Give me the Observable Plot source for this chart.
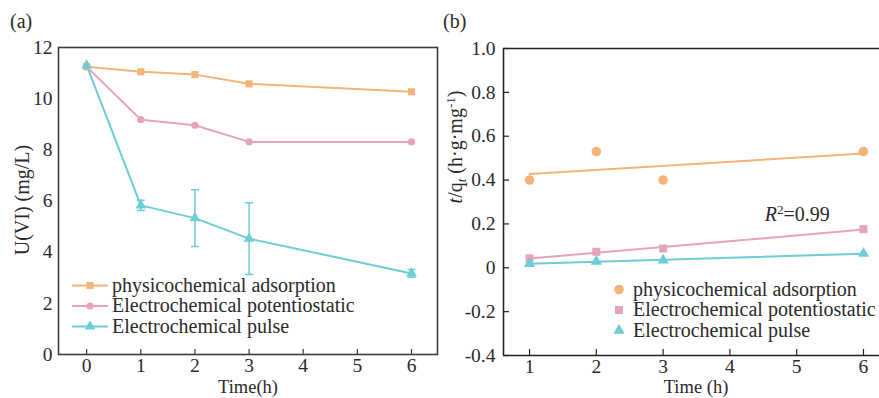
<!DOCTYPE html>
<html><head><meta charset="utf-8">
<script src="https://cdn.jsdelivr.net/npm/d3@7"></script>
<script src="https://cdn.jsdelivr.net/npm/@observablehq/plot@0.6"></script>
<style>
body{margin:0;background:#fff;}
#wrap{display:flex;width:879px;height:398px;overflow:hidden;}
svg text{font-family:"Liberation Serif","Times New Roman",serif;}
</style></head><body><div id="wrap"></div>
<script>
// ---- data (a) ----
const timeA = [0, 1, 2, 3, 6];
const physAdsA = [11.25, 11.05, 10.94, 10.58, 10.27];
const potentioA = [11.25, 9.18, 8.96, 8.31, 8.31];
const pulseA = [11.3, 5.83, 5.33, 4.53, 3.17];
const pulseErrA = [0, 0.2, 1.11, 1.4, 0.15];
const ticksAx = [0, 1, 2, 3, 4, 5, 6];
const ticksAy = [0, 2, 4, 6, 8, 10, 12];
// ---- data (b) ----
const timeB = [1, 2, 3, 6];
const physAdsB = [0.40, 0.53, 0.40, 0.53];
const potentioB = [0.043, 0.073, 0.088, 0.176];
const pulseB = [0.018, 0.029, 0.034, 0.065];
const ticksBx = [1, 2, 3, 4, 5, 6];
const ticksBy = [-0.4, -0.2, 0, 0.2, 0.4, 0.6, 0.8, 1.0];
const seriesNames = ["physicochemical adsorption", "Electrochemical potentiostatic", "Electrochemical pulse"];
const colors = ["#F4B478", "#E6A3BB", "#6CCDD5"];

const FS = 20, TFS = 19.5, XLFS = 18.5;
const font = '"Liberation Serif","Times New Roman",serif';
const wrap = document.getElementById("wrap");

function addText(s, x, y, str, anchor) {
  return s.append("text").attr("x", x).attr("y", y).attr("text-anchor", anchor || "start")
    .attr("font-family", font).attr("font-size", FS).attr("fill", "#2a2a2a").text(str);
}

// ---------- Panel (a) ----------
const A = {w: 440, h: 398, ml: 58, mr: 3, mt: 47, mb: 44};
const innerHA = A.h - A.mt - A.mb;
const xDomA = [-0.52, 6.48], yDomA = [0, 12];
const rowsA = [physAdsA, potentioA, pulseA].map(vals => timeA.map((t, i) => ({t, v: vals[i]})));
const errA = timeA.map((t, i) => ({t, lo: pulseA[i] - pulseErrA[i], hi: pulseA[i] + pulseErrA[i], e: pulseErrA[i]})).filter(d => d.e > 0);
const cap = {draw(ctx) { ctx.moveTo(-4, 0); ctx.lineTo(4, 0); }};
const symA = ["square", "circle", "triangle"];
const rA = [4, 3.6, 4];

const plotA = Plot.plot({
  width: A.w, height: A.h, marginLeft: A.ml, marginRight: A.mr, marginTop: A.mt, marginBottom: A.mb,
  style: {fontFamily: font, fontSize: TFS + "px", color: "#2a2a2a", background: "#fff"},
  x: {domain: xDomA}, y: {domain: yDomA},
  marks: [
    Plot.axisX({ticks: ticksAx, tickSize: 0, tickPadding: 4, label: null, tickFormat: d => String(d)}),
    Plot.axisY({ticks: ticksAy, tickSize: 0, tickPadding: 6, label: null}),
    Plot.ruleX(ticksAx, {insetTop: innerHA - 5, stroke: "#3a3a3a", strokeWidth: 1.2}),
    Plot.ruleX(errA, {x: "t", y1: "lo", y2: "hi", stroke: colors[2], strokeWidth: 1.5}),
    Plot.dot(errA, {x: "t", y: "hi", symbol: cap, stroke: colors[2], strokeWidth: 1.5, fill: "none"}),
    Plot.dot(errA, {x: "t", y: "lo", symbol: cap, stroke: colors[2], strokeWidth: 1.5, fill: "none"}),
    ...rowsA.map((rows, k) => Plot.line(rows, {x: "t", y: "v", stroke: colors[k], strokeWidth: 2})),
    ...rowsA.map((rows, k) => Plot.dot(rows, {x: "t", y: "v", fill: colors[k], symbol: symA[k], r: rA[k]})),
    Plot.frame({stroke: "#3a3a3a", strokeWidth: 1.6})
  ]
});
wrap.appendChild(plotA);
{
  const s = d3.select(plotA);
  addText(s, 10, 28, "(a)");
  addText(s, 0, 0, "U(VI) (mg/L)", "middle").attr("x", null).attr("y", null)
    .attr("transform", "translate(22,200) rotate(-90)").attr("dy", "0.35em");
  addText(s, 248, 393, "Time(h)", "middle").attr("font-size", XLFS);
  const rowsY = [285.5, 306, 326.5];
  seriesNames.forEach((name, k) => {
    s.append("line").attr("x1", 72).attr("x2", 108).attr("y1", rowsY[k]).attr("y2", rowsY[k]).attr("stroke", colors[k]).attr("stroke-width", 2);
    const sym = [d3.symbolSquare, d3.symbolCircle, d3.symbolTriangle][k];
    s.append("path").attr("d", d3.symbol(sym, Math.PI * rA[k] * rA[k])()).attr("transform", `translate(90,${rowsY[k]})`).attr("fill", colors[k]);
    addText(s, 112, rowsY[k], name).attr("dy", "0.32em");
  });
}

// ---------- Panel (b) ----------
const B = {w: 439, h: 398, ml: 63, mr: 0, mt: 48, mb: 43};
const innerHB = B.h - B.mt - B.mb, innerWB = B.w - B.ml - B.mr;
const xDomB = [0.61, 6.24], yDomB = [-0.4, 1.0];
const rowsB = [physAdsB, potentioB, pulseB].map(vals => timeB.map((t, i) => ({t, v: vals[i]})));
const symB = ["circle", "square", "triangle"];
const rB = [4.8, 4.5, 4.2];

const plotB = Plot.plot({
  width: B.w, height: B.h, marginLeft: B.ml, marginRight: B.mr, marginTop: B.mt, marginBottom: B.mb,
  style: {fontFamily: font, fontSize: TFS + "px", color: "#2a2a2a", background: "#fff"},
  x: {domain: xDomB}, y: {domain: yDomB},
  marks: [
    Plot.axisX({ticks: ticksBx, tickSize: 0, tickPadding: 4, label: null, tickFormat: d => String(d)}),
    Plot.axisY({ticks: ticksBy, tickSize: 0, tickPadding: 8, label: null, tickFormat: d => d === 0 ? "0" : d.toFixed(1)}),
    Plot.ruleX(ticksBx, {insetTop: innerHB - 6, stroke: "#222", strokeWidth: 1.2}),
    Plot.ruleY(ticksBy, {insetRight: innerWB - 6, stroke: "#222", strokeWidth: 1.2}),
    ...rowsB.map((rows, k) => Plot.linearRegressionY(rows, {x: "t", y: "v", stroke: colors[k], strokeWidth: 2, ci: 0})),
    ...rowsB.map((rows, k) => Plot.dot(rows, {x: "t", y: "v", fill: colors[k], symbol: symB[k], r: rB[k]})),
    Plot.ruleY([yDomB[1]], {stroke: "#222", strokeWidth: 1.6}),
    Plot.ruleY([yDomB[0]], {stroke: "#222", strokeWidth: 1.6}),
    Plot.ruleX([xDomB[0]], {stroke: "#222", strokeWidth: 1.6})
  ]
});
wrap.appendChild(plotB);
{
  const s = d3.select(plotB);
  const sx = plotB.scale("x"), sy = plotB.scale("y");
  addText(s, 3, 28, "(b)");
  const yl = addText(s, 0, 0, "", "middle").attr("x", null).attr("y", null)
    .attr("transform", "translate(15,147) rotate(-90)").attr("dy", "0.35em");
  yl.append("tspan").attr("font-style", "italic").text("t");
  yl.append("tspan").text("/q");
  yl.append("tspan").attr("font-style", "italic").attr("font-size", 13).attr("dy", 4).text("t");
  yl.append("tspan").attr("dy", -4).text(" (h·g·mg");
  yl.append("tspan").attr("font-size", 13).attr("dy", -7).text("-1");
  yl.append("tspan").attr("dy", 7).text(")");
  addText(s, sx.apply(3.5), 393, "Time (h)", "middle").attr("font-size", XLFS);
  const r2 = addText(s, sx.apply(4.53), sy.apply(0.212), "");
  r2.append("tspan").attr("font-style", "italic").text("R");
  r2.append("tspan").attr("font-size", 13).attr("dy", -7).text("2");
  r2.append("tspan").attr("dy", 7).text("=0.99");
  const rowsY = [289.5, 310, 330.5];
  seriesNames.forEach((name, k) => {
    const sym = [d3.symbolCircle, d3.symbolSquare, d3.symbolTriangle][k];
    s.append("path").attr("d", d3.symbol(sym, Math.PI * rB[k] * rB[k])()).attr("transform", `translate(179,${rowsY[k]})`).attr("fill", colors[k]);
    addText(s, 193, rowsY[k], name).attr("dy", "0.32em");
  });
}
</script></body></html>
